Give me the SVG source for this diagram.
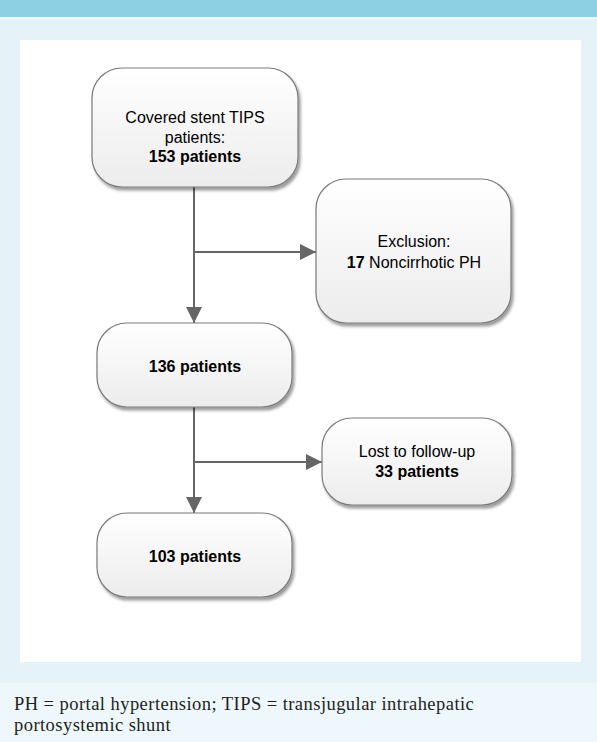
<svg xmlns="http://www.w3.org/2000/svg" width="597" height="742" viewBox="0 0 597 742">
<style>
.box{fill:url(#g);stroke:#7a7a7a;stroke-width:1.2;filter:url(#sh)}
.t{font-family:"Liberation Sans",Arial,sans-serif;font-size:16px;fill:#000;text-anchor:middle}
.b{font-weight:bold}
.c{stroke:#666;stroke-width:2;fill:none}
.cap{font-family:"Liberation Serif","Times New Roman",serif;font-size:18.5px;letter-spacing:0.45px;fill:#231f20}
</style>
<defs>
<linearGradient id="g" x1="0" y1="0" x2="0" y2="1">
<stop offset="0" stop-color="#ffffff"/>
<stop offset="1" stop-color="#ececec"/>
</linearGradient>
<filter id="sh" x="-10%" y="-10%" width="130%" height="130%">
<feGaussianBlur in="SourceAlpha" stdDeviation="1.5"/>
<feOffset dx="2" dy="3" result="o"/>
<feComponentTransfer><feFuncA type="linear" slope="0.4"/></feComponentTransfer>
<feMerge><feMergeNode/><feMergeNode in="SourceGraphic"/></feMerge>
</filter>
<marker id="a" viewBox="0 0 16 16" refX="16" refY="8" markerWidth="16" markerHeight="16" orient="auto" markerUnits="userSpaceOnUse">
<path d="M0,0 L16,8 L0,16 Z" fill="#666"/>
</marker>
</defs>
<rect x="0" y="0" width="597" height="742" fill="#e5f2f8"/>
<rect x="0" y="0" width="597" height="17" fill="#8dd0e3"/>
<rect x="0" y="17" width="597" height="2" fill="#ffffff"/>
<rect x="20" y="40" width="561" height="622" fill="#ffffff"/>
<rect x="0" y="683" width="597" height="59" fill="#eef7fb"/>

<g id="connectors">
<line class="c" x1="194" y1="187" x2="194" y2="323" marker-end="url(#a)"/>
<line class="c" x1="194" y1="252" x2="316" y2="252" marker-end="url(#a)"/>
<line class="c" x1="194" y1="407" x2="194" y2="513" marker-end="url(#a)"/>
<line class="c" x1="194" y1="462" x2="322" y2="462" marker-end="url(#a)"/>
</g>

<g id="n1">
<rect class="box" x="92" y="68" width="206" height="119" rx="30"/>
<text class="t" x="195" y="123">Covered stent TIPS</text>
<text class="t" x="195" y="143">patients:</text>
<text class="t b" x="195" y="162">153 patients</text>
</g>
<g id="n2">
<rect class="box" x="316" y="179" width="195" height="144" rx="30"/>
<text class="t" x="414" y="247">Exclusion:</text>
<text class="t" x="414" y="268"><tspan font-weight="bold">17</tspan> Noncirrhotic PH</text>
</g>
<g id="n3">
<rect class="box" x="97" y="323" width="195" height="84" rx="30"/>
<text class="t b" x="195" y="372">136 patients</text>
</g>
<g id="n4">
<rect class="box" x="322" y="418" width="190" height="87" rx="30"/>
<text class="t" x="417" y="457">Lost to follow-up</text>
<text class="t b" x="417" y="477">33 patients</text>
</g>
<g id="n5">
<rect class="box" x="97" y="513" width="195" height="84" rx="30"/>
<text class="t b" x="195" y="562">103 patients</text>
</g>

<text class="cap" x="14" y="710">PH = portal hypertension; TIPS = transjugular intrahepatic</text>
<text class="cap" x="14" y="731">portosystemic shunt</text>
</svg>
